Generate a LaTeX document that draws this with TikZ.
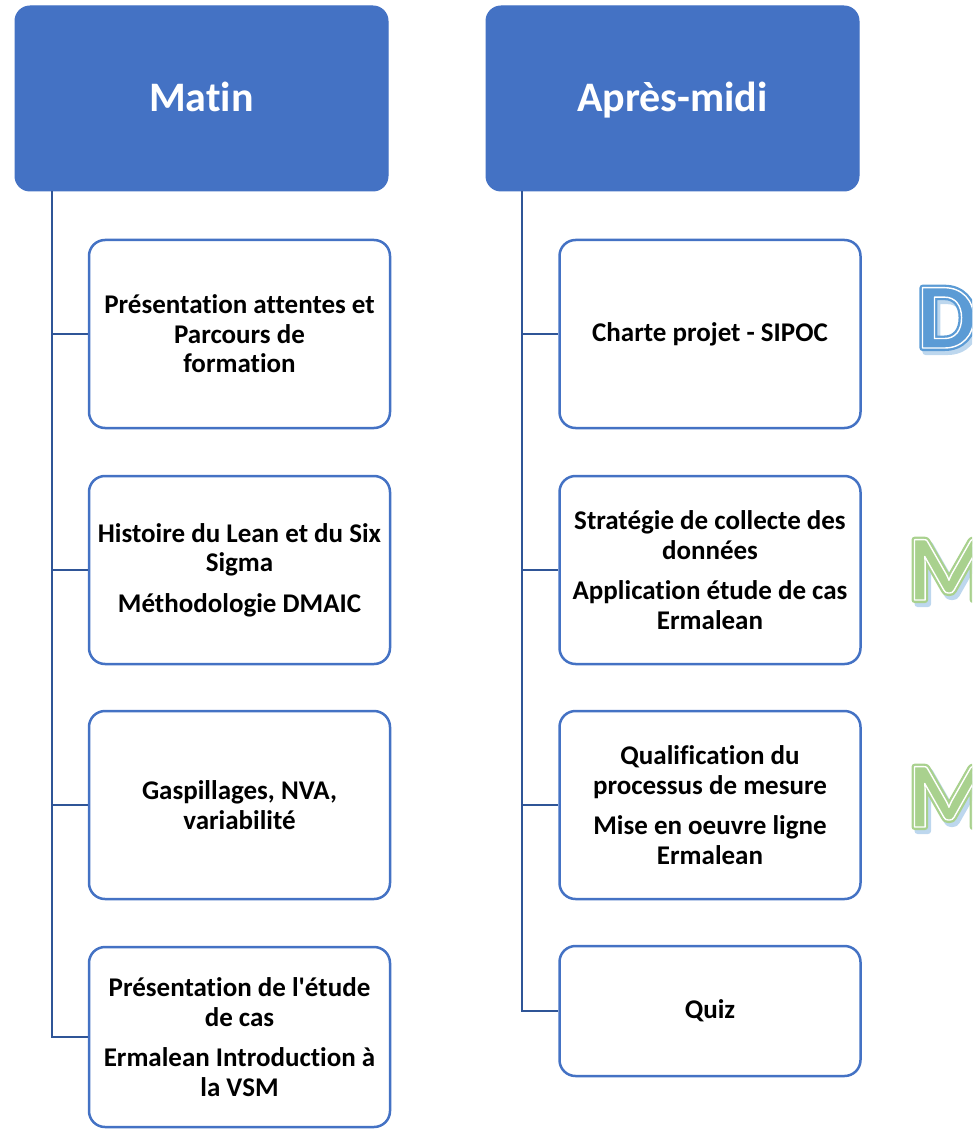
\documentclass[tikz,border=0pt]{standalone}
\usepackage{fontspec}
\newfontfamily\calfont{Carlito}[Ligatures=NoCommon]
\definecolor{hdr}{HTML}{4472C4}
\definecolor{brd}{HTML}{4472C4}
\definecolor{conncol}{HTML}{2F5597}
\definecolor{dblue}{HTML}{5B9BD5}
\definecolor{mgreen}{HTML}{A9D18E}
\definecolor{shad}{HTML}{BDD7EE}
\newcommand{\ringletter}[2]{\special{pdf:literal direct #1 RG 6 w 1 J 1 j 2 Tr}#2\special{pdf:literal direct 0 Tr}}
\newcommand{\lineletter}[1]{\special{pdf:literal direct 1 1 1 RG 1.4 w 1 J 1 j 2 Tr}#1\special{pdf:literal direct 0 Tr}}
\tikzset{
  header/.style={draw=hdr, fill=hdr, line width=1pt, rounded corners=15pt,
    minimum width=373pt, minimum height=185pt, inner sep=0pt,
    text height=27pt, text depth=0pt,
    text=white, font=\calfont\fontsize{42}{50}\selectfont\bfseries},
  item/.style={draw=brd, line width=2.5pt, rounded corners=16pt, fill=white,
    minimum width=301pt, minimum height=188pt, inner sep=0pt, align=center,
    font=\calfont\fontsize{27}{29.5}\selectfont\bfseries},
  conn/.style={draw=conncol, line width=2.5pt},
  bigletter/.style={anchor=base west, inner sep=0pt, font=\calfont\fontsize{93}{93}\selectfont\bfseries}
}
\begin{document}
\begin{tikzpicture}[x=1pt,y=-1pt]
\useasboundingbox (0,0) rectangle (972,1131);
\clip (0,0) rectangle (972,1131);
% headers
\node[header] (m) at (201.5,98.5) {Matin};
\node[header] (a) at (672.5,98.5) {Après-midi};
% left items
\node[item] (l1) at (239.5,334) {Présentation attentes et\\Parcours de\\formation};
\node[item] (l2) at (239.5,570) {Histoire du Lean et du Six\\Sigma\\[11pt]Méthodologie DMAIC};
\node[item] (l3) at (239.5,805) {Gaspillages, NVA,\\variabilité};
\node[item, minimum height=180pt] (l4) at (239.5,1037) {Présentation de l'étude\\de cas\\[11pt]Ermalean Introduction à\\la VSM};
% right items
\node[item] (r1) at (710,334) {Charte projet - SIPOC};
\node[item] (r2) at (710,570) {Stratégie de collecte des\\données\\[11pt]Application étude de cas\\Ermalean};
\node[item] (r3) at (710,805) {Qualification du\\processus de mesure\\[11pt]Mise en oeuvre ligne\\Ermalean};
\node[item, minimum height=130pt] (r4) at (710,1011) {Quiz};
% connectors
\coordinate (lt) at (52,191);
\coordinate (rt) at (522,191);
\draw[conn] (lt) |- (l4.west);
\draw[conn] (lt |- l1.west) -- (l1.west);
\draw[conn] (lt |- l2.west) -- (l2.west);
\draw[conn] (lt |- l3.west) -- (l3.west);
\draw[conn] (rt) |- (r4.west);
\draw[conn] (rt |- r1.west) -- (r1.west);
\draw[conn] (rt |- r2.west) -- (r2.west);
\draw[conn] (rt |- r3.west) -- (r3.west);
% big letters
\node[bigletter, text=shad] (dsh) at (920,352) {\ringletter{0.741 0.843 0.933}{D}};
\node[bigletter, text=dblue] (d) at (917,348) {\ringletter{0.357 0.608 0.835}{D}};
\node[bigletter, text=dblue] (dl) at (917,348) {\lineletter{D}};
\node[bigletter, text=shad] (m1sh) at (911,604) {\ringletter{0.741 0.843 0.933}{M}};
\node[bigletter, text=mgreen] (m1) at (908,600) {\ringletter{0.663 0.820 0.557}{M}};
\node[bigletter, text=mgreen] (m1l) at (908,600) {\lineletter{M}};
\node[bigletter, text=shad] (m2sh) at (911,831) {\ringletter{0.741 0.843 0.933}{M}};
\node[bigletter, text=mgreen] (m2) at (908,827) {\ringletter{0.663 0.820 0.557}{M}};
\node[bigletter, text=mgreen] (m2l) at (908,827) {\lineletter{M}};
\end{tikzpicture}
\end{document}
